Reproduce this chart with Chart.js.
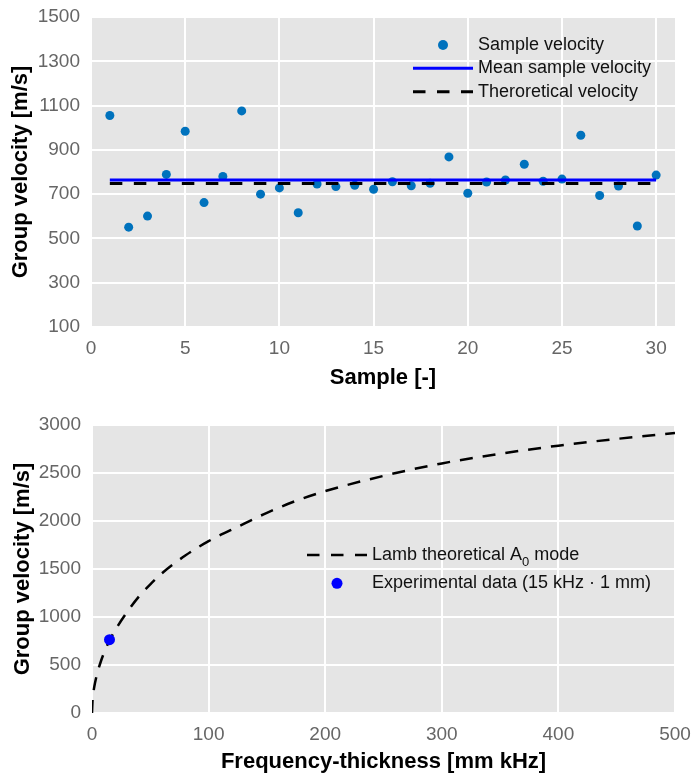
<!DOCTYPE html>
<html>
<head>
<meta charset="utf-8">
<script src="https://cdn.jsdelivr.net/npm/chart.js@4.4.1/dist/chart.umd.min.js"></script>
<style>
  html, body { margin: 0; padding: 0; background: #fff; }
  #wrap { position: relative; width: 693px; height: 773px; }
  canvas { position: absolute; left: 0; }
  #velocityChart { top: 0; }
  #dispersionChart { top: 395px; }
</style>
</head>
<body>
<div id="wrap">
  <canvas id="velocityChart" width="693" height="395"></canvas>
  <canvas id="dispersionChart" width="693" height="378"></canvas>
</div>
<script>
// Measured group velocity for each sample [m/s]
const sampleNumbers = [1, 2, 3, 4, 5, 6, 7, 8, 9, 10, 11, 12, 13, 14, 15,
                       16, 17, 18, 19, 20, 21, 22, 23, 24, 25, 26, 27, 28, 29, 30];
const sampleVelocities = [1055, 551, 601, 789, 984, 662, 780, 1076, 700, 728, 616, 746, 734, 740, 722,
                          756, 738, 749, 868, 704, 755, 764, 835, 758, 768, 966, 694, 737, 556, 786];
const theoreticalVelocity = 748;

// Lamb A0 mode dispersion curve: frequency-thickness [mm kHz] vs group velocity [m/s]
const lambFd = [0, 0.5, 1, 2, 3.5, 5, 7.5, 10, 15, 20, 30, 40, 50, 60, 80, 100, 125, 150,
                175, 200, 250, 300, 350, 400, 450, 500];
const lambCg = [0, 138, 195, 276, 365, 436, 534, 617, 755, 865, 1050, 1210, 1340, 1455, 1640, 1790, 1940, 2085,
                2210, 2311, 2470, 2600, 2700, 2785, 2855, 2917];

// Experimental point
const expFd = 15;

// Tick labels
const sampleTicks = [0, 5, 10, 15, 20, 25, 30];
const velocityTicks = [100, 300, 500, 700, 900, 1100, 1300, 1500];
const fdTicks = [0, 100, 200, 300, 400, 500];
const cgTicks = [0, 500, 1000, 1500, 2000, 2500, 3000];

const meanVelocity = sampleVelocities.reduce((a, b) => a + b, 0) / sampleVelocities.length;

Chart.defaults.font.family = "'Liberation Sans', Arial, sans-serif";
Chart.defaults.animation = false;

const tickFont = { size: 19 };
const titleFont = { size: 22, weight: 'bold', lineHeight: 1 };

// Grey panel behind the plot
const panelBackground = {
    id: 'panelBackground',
    beforeDraw(chart) {
        const { ctx, chartArea: a } = chart;
        ctx.save();
        ctx.fillStyle = '#e5e5e5';
        ctx.fillRect(a.left, a.top, a.right - a.left, a.bottom - a.top);
        ctx.restore();
    }
};

// Legend drawn inside the plot area, no frame
const insetLegend = {
    id: 'insetLegend',
    afterDraw(chart, args, opts) {
        const { ctx, chartArea: a } = chart;
        ctx.save();
        ctx.textBaseline = 'middle';
        opts.items.forEach(item => {
            const y = a.top + item.y;
            if (item.kind === 'dot') {
                ctx.fillStyle = item.color;
                ctx.beginPath();
                ctx.arc(a.left + item.markerX, y, item.radius, 0, Math.PI * 2);
                ctx.fill();
            } else {
                ctx.strokeStyle = item.color;
                ctx.lineWidth = item.width;
                ctx.setLineDash(item.dash || []);
                ctx.beginPath();
                ctx.moveTo(a.left + opts.lineFrom, y);
                ctx.lineTo(a.left + opts.lineTo, y);
                ctx.stroke();
                ctx.setLineDash([]);
            }
            let x = a.left + opts.textX;
            ctx.fillStyle = '#111';
            item.parts.forEach(p => {
                ctx.font = (p.sub ? '13px' : '18px') + " 'Liberation Sans', Arial, sans-serif";
                ctx.fillText(p.t, x, p.sub ? y + 7 : y);
                x += ctx.measureText(p.t).width;
            });
        });
        ctx.restore();
    }
};

function fixedTicks(values) {
    return scale => { scale.ticks = values.map(v => ({ value: v })); };
}

// Fixed axis thickness; tick labels may overhang the plot edges freely
function fitAxis(size) {
    return scale => {
        if (scale.isHorizontal()) {
            scale.height = size;
        } else {
            scale.width = size;
        }
        scale.paddingTop = scale.paddingBottom = scale.paddingLeft = scale.paddingRight = 0;
    };
}

const plainNumber = v => String(v);
const gridStyle = { color: '#ffffff', lineWidth: 2, drawTicks: false };

// Sample velocities
new Chart(document.getElementById('velocityChart'), {
    type: 'scatter',
    data: {
        datasets: [{
            label: 'Sample velocity',
            data: sampleNumbers.map((n, i) => ({ x: n, y: sampleVelocities[i] })),
            backgroundColor: '#0072bd',
            pointRadius: 4.5,
            pointBorderWidth: 0,
            order: 3
        }, {
            label: 'Mean sample velocity',
            data: [{ x: sampleNumbers[0], y: meanVelocity }, { x: sampleNumbers[sampleNumbers.length - 1], y: meanVelocity }],
            showLine: true,
            borderColor: '#0000ff',
            borderWidth: 3,
            pointRadius: 0,
            order: 2
        }, {
            label: 'Theroretical velocity',
            data: [{ x: sampleNumbers[0], y: theoreticalVelocity }, { x: sampleNumbers[sampleNumbers.length - 1], y: theoreticalVelocity }],
            showLine: true,
            borderColor: '#000000',
            borderWidth: 3,
            borderDash: [12.5, 11.5],
            pointRadius: 0,
            order: 1
        }]
    },
    options: {
        responsive: false,
        layout: { padding: { top: 17, right: 18, left: 0, bottom: 0 } },
        scales: {
            x: {
                type: 'linear',
                min: 0,
                max: 31,
                afterBuildTicks: fixedTicks(sampleTicks),
                afterFit: fitAxis(68),
                grid: gridStyle,
                border: { display: false },
                ticks: { font: tickFont, color: '#666', padding: 10, callback: plainNumber },
                title: { display: true, text: 'Sample [-]', font: titleFont, color: '#000', padding: { top: 0, bottom: 6 } }
            },
            y: {
                min: 100,
                max: 1500,
                afterBuildTicks: fixedTicks(velocityTicks),
                afterFit: fitAxis(91),
                grid: gridStyle,
                border: { display: false },
                ticks: { font: tickFont, color: '#666', padding: 11, callback: plainNumber },
                title: { display: true, text: 'Group velocity [m/s]', font: titleFont, color: '#000', padding: { top: 10, bottom: 0 } }
            }
        },
        plugins: {
            legend: { display: false },
            tooltip: { enabled: false },
            insetLegend: {
                lineFrom: 322,
                lineTo: 382,
                textX: 387,
                items: [
                    { kind: 'dot', color: '#0072bd', radius: 5, markerX: 352, y: 28, parts: [{ t: 'Sample velocity' }] },
                    { kind: 'line', color: '#0000ff', width: 3, y: 51.3, parts: [{ t: 'Mean sample velocity' }] },
                    { kind: 'line', color: '#000000', width: 3, dash: [12.5, 11.5], y: 74.7, parts: [{ t: 'Theroretical velocity' }] }
                ]
            }
        }
    },
    plugins: [panelBackground, insetLegend]
});

// Dispersion curve with the experimental point
new Chart(document.getElementById('dispersionChart'), {
    type: 'scatter',
    data: {
        datasets: [{
            label: 'Experimental data (15 kHz · 1 mm)',
            data: [{ x: expFd, y: meanVelocity }],
            backgroundColor: '#0000ff',
            pointRadius: 5.5,
            pointBorderWidth: 0,
            order: 1
        }, {
            label: 'Lamb theoretical A0 mode',
            data: lambFd.map((fd, i) => ({ x: fd, y: lambCg[i] })),
            showLine: true,
            cubicInterpolationMode: 'monotone',
            borderColor: '#000000',
            borderWidth: 2.5,
            borderDash: [13, 10],
            pointRadius: 0,
            order: 2
        }]
    },
    options: {
        responsive: false,
        layout: { padding: { top: 30, right: 18, left: 0, bottom: 0 } },
        scales: {
            x: {
                type: 'linear',
                min: 0,
                max: 500,
                afterBuildTicks: fixedTicks(fdTicks),
                afterFit: fitAxis(60),
                grid: gridStyle,
                border: { display: false },
                ticks: { font: tickFont, color: '#666', padding: 10, callback: plainNumber },
                title: { display: true, text: 'Frequency-thickness [mm kHz]', font: titleFont, color: '#000', padding: { top: 0, bottom: 0 } }
            },
            y: {
                min: 0,
                max: 3000,
                afterBuildTicks: fixedTicks(cgTicks),
                afterFit: fitAxis(92),
                grid: gridStyle,
                border: { display: false },
                ticks: { font: tickFont, color: '#666', padding: 11, callback: plainNumber },
                title: { display: true, text: 'Group velocity [m/s]', font: titleFont, color: '#000', padding: { top: 12, bottom: 0 } }
            }
        },
        plugins: {
            legend: { display: false },
            tooltip: { enabled: false },
            insetLegend: {
                lineFrom: 215,
                lineTo: 275,
                textX: 280,
                items: [
                    { kind: 'line', color: '#000000', width: 2.5, dash: [12.5, 11.5], y: 130, parts: [{ t: 'Lamb theoretical A' }, { t: '0', sub: true }, { t: ' mode' }] },
                    { kind: 'dot', color: '#0000ff', radius: 5.5, markerX: 245, y: 158.3, parts: [{ t: 'Experimental data (15 kHz · 1 mm)' }] }
                ]
            }
        }
    },
    plugins: [panelBackground, insetLegend]
});
</script>
</body>
</html>
